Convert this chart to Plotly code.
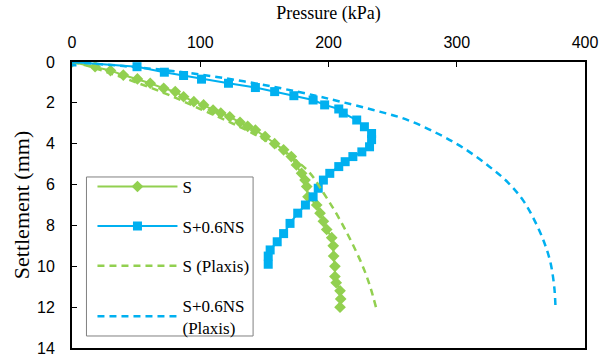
import plotly.graph_objects as go

# Measured pressure–settlement response
s_pressure = [0, 18, 30, 40, 51, 61, 71.5, 80.5, 87, 95, 102.6, 110, 116, 123, 131,
              137, 143, 150.6, 158, 165, 171, 175, 179, 181.7, 183, 184, 190.8,
              193.4, 196, 198.6, 202.5, 203.7, 204, 205, 205, 206, 209, 209.5, 209]
s_settlement = [0, 0.23, 0.42, 0.64, 0.83, 1.04, 1.29, 1.45, 1.7, 1.94, 2.1, 2.35,
                2.5, 2.68, 2.95, 3.15, 3.33, 3.65, 4.0, 4.3, 4.63, 5.04, 5.45, 5.78,
                6.1, 6.6, 7.0, 7.4, 7.8, 8.2, 8.6, 9.0, 9.5, 10.0, 10.5, 10.8, 11.2,
                11.6, 12.0]

sns_pressure = [0, 50.7, 72, 87, 101, 122, 143, 158, 173, 188, 197, 208, 211.5, 222,
                228, 233.6, 233.6, 232, 226, 219, 213, 208, 201, 196, 192, 188, 182,
                176, 170, 165, 160, 154.5, 153, 153]
sns_settlement = [0, 0.23, 0.5, 0.66, 0.84, 1.04, 1.25, 1.45, 1.65, 1.86, 2.1, 2.3,
                  2.5, 2.84, 3.17, 3.5, 3.8, 4.15, 4.4, 4.63, 4.88, 5.12, 5.45, 5.78,
                  6.18, 6.6, 7.0, 7.4, 7.9, 8.4, 8.8, 9.2, 9.5, 9.9]

# Plaxis predictions
s_fem_pressure = [0, 10, 25, 50, 75, 100, 125, 150, 170, 185, 196, 205, 213, 221,
                  228, 233, 237]
s_fem_settlement = [0, 0.15, 0.45, 1.0, 1.6, 2.3, 3.0, 3.8, 4.6, 5.4, 6.4, 7.3, 8.2,
                    9.2, 10.2, 11.1, 12.0]

sns_fem_pressure = [0, 40, 80, 120, 160, 190, 210, 235, 260, 285, 305, 325, 340, 352,
                    361, 368, 373, 376, 377]
sns_fem_settlement = [0, 0.2, 0.45, 0.8, 1.25, 1.65, 1.95, 2.35, 2.8, 3.5, 4.2, 5.1,
                      5.9, 6.8, 7.8, 8.8, 9.8, 11.0, 12.0]

x_ticks = [0, 100, 200, 300, 400]
y_ticks = [0, 2, 4, 6, 8, 10, 12, 14]

GREEN = "#92D050"
BLUE = "#00B0F0"
SERIF = "Liberation Serif"
SANS = "Liberation Sans"

fig = go.Figure()
fig.add_trace(go.Scatter(
    x=s_pressure, y=s_settlement, name="S", legendgroup="a",
    mode="lines+markers", line=dict(color=GREEN, width=2),
    marker=dict(symbol="diamond", size=9, color=GREEN)))
fig.add_trace(go.Scatter(
    x=sns_pressure, y=sns_settlement, name="S+0.6NS", legendgroup="b",
    mode="lines+markers", line=dict(color=BLUE, width=2),
    marker=dict(symbol="square", size=9, color=BLUE)))
fig.add_trace(go.Scatter(
    x=s_fem_pressure, y=s_fem_settlement, name="S (Plaxis)", legendgroup="c",
    mode="lines", line=dict(color=GREEN, width=2.5, dash="7px,5px", shape="spline")))
fig.add_trace(go.Scatter(
    x=sns_fem_pressure, y=sns_fem_settlement, name="S+0.6NS<br>(Plaxis)",
    legendgroup="d",
    mode="lines", line=dict(color=BLUE, width=2.5, dash="7px,5px", shape="spline")))

# white framed panel behind the legend entries
fig.add_shape(type="rect", xref="paper", yref="paper",
              x0=0.0282, x1=0.353, y0=0.042, y1=0.598,
              line=dict(color="#808080", width=1), fillcolor="white", layer="above")

fig.update_layout(
    width=612, height=360,
    margin=dict(l=71.5, r=26.5, t=62, b=12, autoexpand=False),
    paper_bgcolor="white", plot_bgcolor="white",
    font=dict(family=SANS, size=16, color="black"),
    showlegend=True,
    legend=dict(
        x=0.0399, y=0.626, xanchor="left", yanchor="top",
        bgcolor="rgba(0,0,0,0)", borderwidth=0,
        font=dict(family=SERIF, size=17),
        itemwidth=80, tracegroupgap=14.5, traceorder="grouped"),
)
fig.update_xaxes(
    side="top", range=[0, 400], tickvals=x_ticks, ticks="inside", ticklen=5,
    tickwidth=1, tickcolor="black", showline=True, linecolor="black", linewidth=2,
    mirror=True, showgrid=False, zeroline=False, ticklabelstandoff=6,
    tickfont=dict(family=SANS, size=16),
    title=dict(text="Pressure (kPa)", standoff=9,
               font=dict(family=SERIF, size=18)))
fig.update_yaxes(
    range=[14, 0], tickvals=y_ticks, ticks="inside", ticklen=5, tickwidth=1,
    tickcolor="black", showline=True, linecolor="black", linewidth=2, mirror=True,
    showgrid=False, zeroline=False, ticklabelstandoff=12,
    tickfont=dict(family=SANS, size=16),
    title=dict(text="Settlement (mm)", standoff=1,
               font=dict(family=SERIF, size=22)))

fig.write_html("out.html")
